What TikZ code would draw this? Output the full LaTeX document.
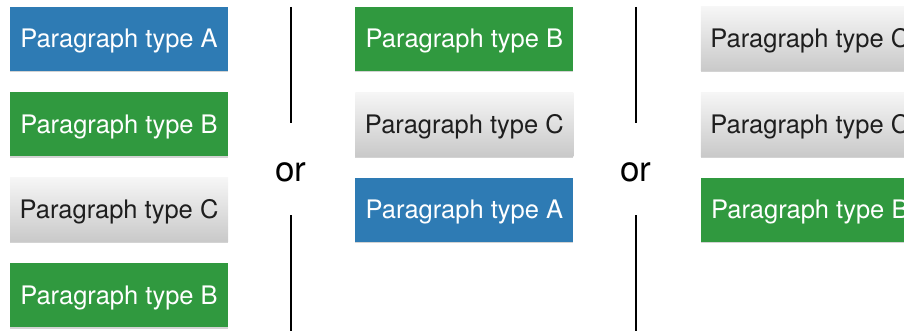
\documentclass[tikz,border=0pt]{standalone}
\usepackage{fontspec}
\setmainfont{TeX Gyre Heros}
\usetikzlibrary{positioning}
\usetikzlibrary{shadows}

\definecolor{parablue}{HTML}{2E7BB4}
\definecolor{paragreen}{HTML}{30993F}
\definecolor{paragraytop}{HTML}{F6F6F6}
\definecolor{paragraybot}{HTML}{C9C9C9}
\definecolor{paratext}{HTML}{1E1E1E}

\begin{document}
\begin{tikzpicture}
    [x=1pt,y=-1pt,
    node distance=21pt and 127pt,
    para/.style={rectangle,inner sep=0pt,minimum width=218pt,minimum height=64pt,
      text height=18pt,text depth=0pt,
      font=\fontsize{25.5}{30}\selectfont,
      drop shadow={opacity=0.35,shadow xshift=0pt,shadow yshift=-1.5pt}},
    typea/.style={para,fill=parablue,text=white},
    typeb/.style={para,fill=paragreen,text=white},
    typec/.style={para,top color=paragraytop,bottom color=paragraybot,text=paratext},
    ortext/.style={inner sep=0pt,font=\fontsize{35}{40}\selectfont},
    divider/.style={draw=black,line width=1.5pt}]

    \useasboundingbox (0,0) rectangle (904,331);
    \clip (0,0) rectangle (904,331);

    % first order
    \node[typea] (a1)                    at (119,39) {Paragraph type A};
    \node[typeb] (a2) [below=of a1] {Paragraph type B};
    \node[typec] (a3) [below=of a2] {Paragraph type C};
    \node[typeb] (a4) [below=of a3] {Paragraph type B};

    % second order
    \node[typeb] (b1) [right=of a1] {Paragraph type B};
    \node[typec] (b2) [below=of b1] {Paragraph type C};
    \node[typea] (b3) [below=of b2] {Paragraph type A};

    % third order
    \node[typec] (c1) [right=of b1] {Paragraph type C};
    \node[typec] (c2) [below=of c1] {Paragraph type C};
    \node[typeb] (c3) [below=of c2] {Paragraph type B};

    % separators
    \node[ortext] (or1) at (291,172.5) {or};
    \node[ortext] (or2) at (636,172.5) {or};

    \coordinate (or1 top)    at (291,7);
    \coordinate (or1 above)  at (291,123);
    \coordinate (or1 below)  at (291,215);
    \coordinate (or1 bottom) at (291,331);
    \coordinate (or2 top)    at (636,7);
    \coordinate (or2 above)  at (636,123);
    \coordinate (or2 below)  at (636,215);
    \coordinate (or2 bottom) at (636,331);

    \draw[divider] (or1 top) -- (or1 above);
    \draw[divider] (or1 below) -- (or1 bottom);
    \draw[divider] (or2 top) -- (or2 above);
    \draw[divider] (or2 below) -- (or2 bottom);

  \end{tikzpicture}
\end{document}
